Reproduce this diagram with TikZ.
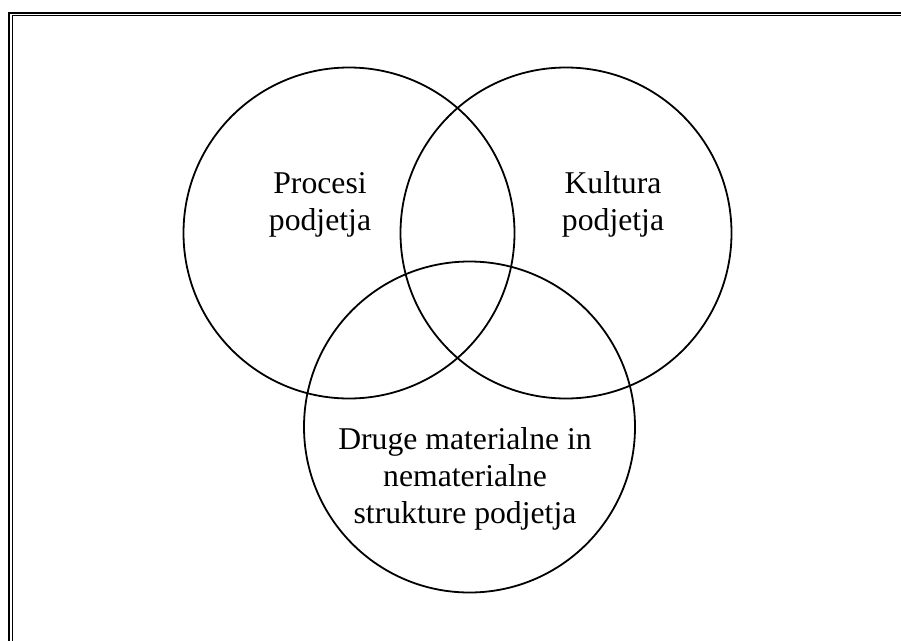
\documentclass[tikz,border=0pt]{standalone}
\usepackage{fontspec}
\setmainfont{Liberation Serif}
\begin{document}
\begin{tikzpicture}[x=1pt,y=-1pt,
  venn/.style={circle, draw, line width=1.8pt, minimum size=331pt, inner sep=0pt},
  lbl/.style={align=center, inner sep=0pt, anchor=base, font=\fontsize{31.7}{37}\selectfont},
  outerline/.style={line width=2.4pt},
  innerline/.style={line width=1.3pt}]
\useasboundingbox (0,0) rectangle (901,640);
% frame (only left and top visible)
\coordinate (o1) at (9.2,645);
\coordinate (o2) at (9.2,13.2);
\coordinate (o3) at (905,13.2);
\coordinate (i1) at (12.7,645);
\coordinate (i2) at (12.7,15.7);
\coordinate (i3) at (905,15.7);
\draw[outerline] (o1) -- (o2) -- (o3);
\draw[innerline] (i1) -- (i2) -- (i3);
% circles
\node[venn] (procesi) at (349,233) {};
\node[venn] (kultura) at (566,233) {};
\node[venn] (druge) at (469.5,427) {};
% labels (anchor = baseline of last line)
\node[lbl] (tp) at (320,230) {Procesi\\podjetja};
\node[lbl] (tk) at (613,230) {Kultura\\podjetja};
\node[lbl] (td) at (465,523) {Druge materialne in\\nematerialne\\strukture podjetja};
\end{tikzpicture}
\end{document}
